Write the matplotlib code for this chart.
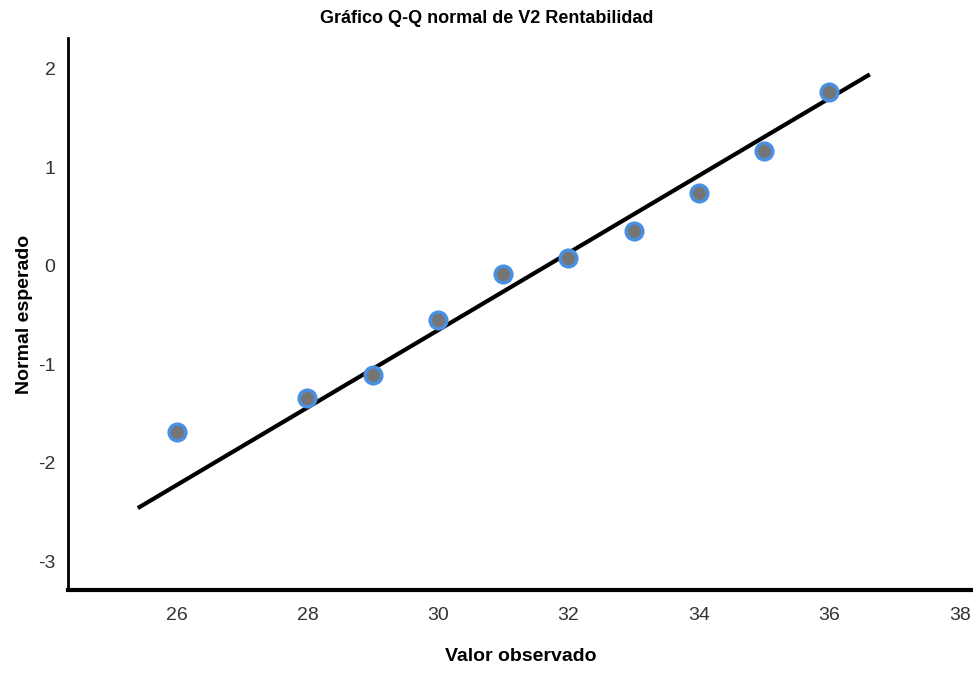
import numpy as np
import matplotlib.pyplot as plt

observed = [26, 28, 29, 30, 31, 32, 33, 34, 35, 36]
expected = [-1.69, -1.34, -1.11, -0.55, -0.08, 0.08, 0.355, 0.74, 1.16, 1.76]

# Reference line: y = (x - mean) / sd
line_mean = 31.67
line_sd = 2.55
line_x = [25.4, 36.62]

x_ticks = [26, 28, 30, 32, 34, 36, 38]
y_ticks = [-3, -2, -1, 0, 1, 2]

plt.rcParams["font.family"] = ["Liberation Sans", "DejaVu Sans"]
plt.rcParams["axes.unicode_minus"] = False

fig = plt.figure(figsize=(9.73, 6.73), dpi=100)
ax = fig.add_axes([0.0699, 0.1233, 0.93, 0.8202])

lx = np.array(line_x)
ax.plot(lx, (lx - line_mean) / line_sd, color="black", lw=3, zorder=2,
        solid_capstyle="butt")
ax.plot(observed, expected, ls="none", marker="o", ms=12, mfc="#757575",
        mec="#4a90e2", mew=2.5, zorder=3)

ax.set_xlim(24.33, 38.2)
ax.set_ylim(-3.29, 2.31)
ax.set_xticks(x_ticks)
ax.set_yticks(y_ticks)
ax.tick_params(length=0, labelsize=14, colors="#333333")
ax.tick_params(axis="x", pad=12)
ax.tick_params(axis="y", pad=9)
for s in ["top", "right"]:
    ax.spines[s].set_visible(False)
ax.spines["left"].set_linewidth(2)
ax.spines["bottom"].set_linewidth(3)

ax.set_xlabel("Valor observado", fontsize=14, fontweight="bold")
ax.set_ylabel("Normal esperado", fontsize=14, fontweight="bold")
ax.xaxis.set_label_coords(0.5, -0.121, transform=ax.transAxes)
ax.yaxis.set_label_coords(-0.048, 0.5, transform=ax.transAxes)
ax.xaxis.label.set_verticalalignment("center")
ax.yaxis.label.set_verticalalignment("center")
fig.suptitle("Gráfico Q-Q normal de V2 Rentabilidad", fontsize=13,
             fontweight="bold", y=0.985)

fig.savefig("out.png", dpi=100)
